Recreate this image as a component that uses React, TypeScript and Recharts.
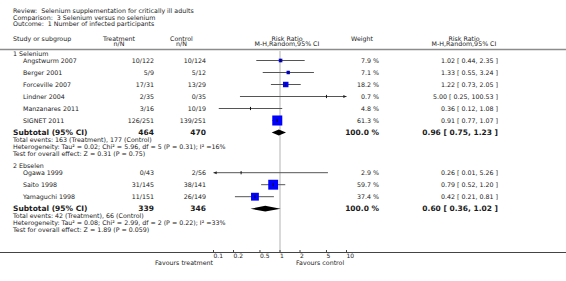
import React from 'react';
import { ComposedChart, XAxis, YAxis, Scatter, ErrorBar, Area } from 'recharts';

if (typeof document !== 'undefined') {
  document.body.style.margin = '0';
}

// ---------------- data ----------------
const reviewTitle = 'Review:  Selenium supplementation for critically ill adults';
const comparisonTitle = 'Comparison:  3 Selenium versus no selenium';
const outcomeTitle = 'Outcome:  1 Number of infected participants';

const groupLabels = ['1 Selenium', '2 Ebselen'];

const g1Studies = ['Angstwurm 2007', 'Berger 2001', 'Forceville 2007', 'Lindner 2004', 'Manzanares 2011', 'SIGNET 2011'];
const g1Treatment = ['10/122', '5/9', '17/31', '2/35', '3/16', '126/251'];
const g1Control = ['10/124', '5/12', '13/29', '0/35', '10/19', '139/251'];
const g1Weight = [7.9, 7.1, 18.2, 0.7, 4.8, 61.3];
const g1RR = [1.02, 1.33, 1.22, 5.0, 0.36, 0.91];
const g1Lo = [0.44, 0.55, 0.73, 0.25, 0.12, 0.77];
const g1Hi = [2.35, 3.24, 2.05, 100.53, 1.08, 1.07];

const g2Studies = ['Ogawa 1999', 'Saito 1998', 'Yamaguchi 1998'];
const g2Treatment = ['0/43', '31/145', '11/151'];
const g2Control = ['2/56', '38/141', '26/149'];
const g2Weight = [2.9, 59.7, 37.4];
const g2RR = [0.26, 0.79, 0.42];
const g2Lo = [0.01, 0.52, 0.21];
const g2Hi = [5.26, 1.2, 0.81];

const pooledRR = [0.96, 0.6];
const pooledLo = [0.75, 0.36];
const pooledHi = [1.23, 1.02];
const totalTreatment = [464, 339];
const totalControl = [470, 346];
const totalWeight = [100.0, 100.0];

const eventsNotes = [
  'Total events: 163 (Treatment), 177 (Control)',
  'Total events: 42 (Treatment), 66 (Control)',
];
const heterogeneityNotes = [
  'Heterogeneity: Tau\u00B2 = 0.02; Chi\u00B2 = 5.96, df = 5 (P = 0.31); I\u00B2 =16%',
  'Heterogeneity: Tau\u00B2 = 0.08; Chi\u00B2 = 2.99, df = 2 (P = 0.22); I\u00B2 =33%',
];
const effectNotes = [
  'Test for overall effect: Z = 0.31 (P = 0.75)',
  'Test for overall effect: Z = 1.89 (P = 0.059)',
];

const axisTicks = [0.1, 0.2, 0.5, 1, 2, 5, 10];
const axisDomain: [number, number] = [0.1, 10];
const noEffectValue = 1;
const favoursLeft = 'Favours treatment';
const favoursRight = 'Favours control';

// ---------------- layout / style ----------------
const W = 566;
const H = 281;
const FONT = "'DejaVu Sans', Verdana, sans-serif";
const TXT = '#1a1a1a';
const FS = 6.3;
const FS_BOLD = 7.5;
const Y_DOMAIN: [number, number] = [-5, 16];
const GROUP_START = [0, 9.35];
const GROUP_HEADER_OFFSET = -0.6;
const NOTE_OFFSETS = [0.58, 1.15, 1.72];
const DIAMOND_HALF = 0.24;
const REF_TOP = -0.8;
const X_AXIS_H = 28.5;
const MARGIN = { top: 0.5, right: 219.5, bottom: 0, left: 213.5 };
const COL_GROUP = 13;
const COL_STUDY = 23;
const COL_T = 154;
const COL_C = 206;
const COL_W = 379;
const COL_RR = 498;

const fmtCI = (rr: number, lo: number, hi: number) =>
  `${rr.toFixed(2)} [ ${lo.toFixed(2)}, ${hi.toFixed(2)} ]`;

const groups = [
  {
    label: groupLabels[0],
    studies: g1Studies.map((name, i) => ({
      name, t: g1Treatment[i], c: g1Control[i], w: g1Weight[i], rr: g1RR[i], lo: g1Lo[i], hi: g1Hi[i],
    })),
  },
  {
    label: groupLabels[1],
    studies: g2Studies.map((name, i) => ({
      name, t: g2Treatment[i], c: g2Control[i], w: g2Weight[i], rr: g2RR[i], lo: g2Lo[i], hi: g2Hi[i],
    })),
  },
];

const studyPoints: any[] = [];
const arrowPoints: any[] = [];
const tableRows: any[] = [];
const diamonds: any[][] = [];

groups.forEach((g, gi) => {
  const y0 = GROUP_START[gi];
  tableRows.push({ x: 1, y: y0 + GROUP_HEADER_OFFSET, kind: 'group', label: g.label });
  g.studies.forEach((s, i) => {
    const y = y0 + i;
    const lo = Math.max(s.lo, axisDomain[0]);
    const hi = Math.min(s.hi, axisDomain[1]);
    studyPoints.push({ x: s.rr, y, weight: s.w, err: [s.rr - lo, hi - s.rr] });
    if (s.lo < axisDomain[0]) arrowPoints.push({ x: axisDomain[0], y, dir: -1 });
    if (s.hi > axisDomain[1]) arrowPoints.push({ x: axisDomain[1], y, dir: 1 });
    tableRows.push({
      x: 1, y, kind: 'study', label: s.name, t: s.t, c: s.c,
      w: `${s.w.toFixed(1)} %`, ci: fmtCI(s.rr, s.lo, s.hi),
    });
  });
  const ys = y0 + g.studies.length;
  diamonds.push([
    { x: pooledLo[gi], band: [ys, ys] },
    { x: pooledRR[gi], band: [ys - DIAMOND_HALF, ys + DIAMOND_HALF] },
    { x: pooledHi[gi], band: [ys, ys] },
  ]);
  tableRows.push({
    x: 1, y: ys, kind: 'subtotal', label: 'Subtotal (95% CI)',
    t: String(totalTreatment[gi]), c: String(totalControl[gi]),
    w: `${totalWeight[gi].toFixed(1)} %`, ci: fmtCI(pooledRR[gi], pooledLo[gi], pooledHi[gi]),
  });
  [eventsNotes[gi], heterogeneityNotes[gi], effectNotes[gi]].forEach((txt, k) => {
    tableRows.push({ x: 1, y: ys + NOTE_OFFSETS[k], kind: 'note', label: txt });
  });
});

// vertical "no effect" line at RR = 1 (a y-direction error bar in an underlay chart)
const refMid = (REF_TOP + Y_DOMAIN[1]) / 2;
const refLinePoint = [{ x: noEffectValue, y: refMid, err: [refMid - REF_TOP, Y_DOMAIN[1] - refMid] }];

// ---------------- shapes ----------------
const EmptyShape = () => <g />;

const SquareShape = (props: any) => {
  const { cx, cy, payload } = props;
  const s = 1.28 * Math.sqrt(payload.weight);
  if (s < 3) return <g />;
  return <rect x={cx - s / 2} y={cy - s / 2} width={s} height={s} fill="#0000ff" />;
};

const TickShape = (props: any) => {
  const { cx, cy } = props;
  return <line x1={cx} x2={cx} y1={cy - 1.6} y2={cy + 1.6} stroke="#111" strokeWidth={1} />;
};

const ArrowShape = (props: any) => {
  const { cx, cy, payload } = props;
  const d = payload.dir;
  const pts = `${cx},${cy} ${cx - d * 3.2},${cy - 1.5} ${cx - d * 3.2},${cy + 1.5}`;
  return <polygon points={pts} fill="#222" />;
};

const TableRow = (props: any) => {
  const { cy, payload: r } = props;
  const t = (x: number, s: string, anchor: 'start' | 'end' | 'middle', bold = false) => (
    <text
      x={x}
      y={cy}
      textAnchor={anchor}
      dominantBaseline="central"
      fontFamily={FONT}
      fontSize={bold ? FS_BOLD : FS}
      fontWeight={bold ? 'bold' : 'normal'}
      fill={TXT}
    >
      {s}
    </text>
  );
  if (r.kind === 'group' || r.kind === 'note') return <g>{t(COL_GROUP, r.label, 'start')}</g>;
  if (r.kind === 'study')
    return (
      <g>
        {t(COL_STUDY, r.label, 'start')}
        {t(COL_T, r.t, 'end')}
        {t(COL_C, r.c, 'end')}
        {t(COL_W, r.w, 'end')}
        {t(COL_RR, r.ci, 'end')}
      </g>
    );
  return (
    <g>
      {t(COL_GROUP, r.label, 'start', true)}
      {t(COL_T, r.t, 'end', true)}
      {t(COL_C, r.c, 'end', true)}
      {t(COL_W, r.w, 'end', true)}
      {t(COL_RR, r.ci, 'end', true)}
    </g>
  );
};

const AxisTick = (props: any) => {
  const { x, y, payload } = props;
  return (
    <g>
      <line x1={x} x2={x} y1={y - 2.5} y2={y} stroke="#444" strokeWidth={1} />
      <text x={x} y={y + 3} textAnchor="start" dominantBaseline="central" fontFamily={FONT} fontSize={6} fill={TXT}>
        {String(payload.value)}
      </text>
    </g>
  );
};

// ---------------- component ----------------
const hdr = (x: number, y: number, s: string, anchor: 'start' | 'middle' | 'end' = 'middle') => (
  <text x={x} y={y} textAnchor={anchor} dominantBaseline="central" fontFamily={FONT} fontSize={FS} fill={TXT}
    style={{ whiteSpace: 'pre' }}>
    {s}
  </text>
);

const layerStyle: React.CSSProperties = { position: 'absolute', left: 0, top: 0 };

export default function App() {
  const axisY = H - X_AXIS_H;
  return (
    <div style={{ position: 'relative', width: W, height: H, overflow: 'hidden', background: '#fff' }}>
      {/* underlay: the no-effect line, drawn behind every mark */}
      <div style={layerStyle}>
        <ComposedChart width={W} height={H} margin={MARGIN}>
          <XAxis
            dataKey="x"
            type="number"
            scale="log"
            domain={axisDomain}
            ticks={axisTicks}
            axisLine={false}
            tickLine={false}
            tick={false}
            height={X_AXIS_H}
          />
          <YAxis type="number" domain={Y_DOMAIN} reversed hide />
          <Scatter data={refLinePoint} dataKey="y" shape={<EmptyShape />} isAnimationActive={false}>
            <ErrorBar dataKey="err" direction="y" width={0} stroke="#d9d9d9" strokeWidth={2} isAnimationActive={false} />
          </Scatter>
        </ComposedChart>
      </div>
      {/* main forest plot */}
      <div style={layerStyle}>
        <ComposedChart width={W} height={H} margin={MARGIN}>
          <XAxis
            dataKey="x"
            type="number"
            scale="log"
            domain={axisDomain}
            ticks={axisTicks}
            interval={0}
            axisLine={false}
            tickLine={false}
            tickSize={0}
            tickMargin={0}
            height={X_AXIS_H}
            tick={<AxisTick />}
          />
          <YAxis type="number" domain={Y_DOMAIN} reversed hide />
          {diamonds.map((d, i) => (
            <Area
              key={i}
              data={d}
              dataKey="band"
              type="linear"
              stroke="none"
              fill="#000"
              fillOpacity={1}
              dot={false}
              activeDot={false}
              isAnimationActive={false}
            />
          ))}
          <Scatter data={studyPoints} dataKey="y" shape={<SquareShape />} isAnimationActive={false} />
          <Scatter data={studyPoints} dataKey="y" shape={<TickShape />} isAnimationActive={false}>
            <ErrorBar dataKey="err" direction="x" width={0} stroke="#555" strokeWidth={1} isAnimationActive={false} />
          </Scatter>
          <Scatter data={arrowPoints} dataKey="y" shape={<ArrowShape />} isAnimationActive={false} />
          <Scatter data={tableRows} dataKey="y" shape={<TableRow />} isAnimationActive={false} />
        </ComposedChart>
      </div>
      <svg width={W} height={H} style={{ ...layerStyle, pointerEvents: 'none' }}>
        {hdr(13, 10.5, reviewTitle, 'start')}
        {hdr(13, 17.2, comparisonTitle, 'start')}
        {hdr(13, 23.9, outcomeTitle, 'start')}
        {hdr(13, 38, 'Study or subgroup', 'start')}
        {hdr(119, 38, 'Treatment')}
        {hdr(119, 43.7, 'n/N')}
        {hdr(181.5, 38, 'Control')}
        {hdr(181.5, 43.7, 'n/N')}
        {hdr(287, 38, 'Risk Ratio')}
        {hdr(287, 43.7, 'M-H,Random,95% CI')}
        {hdr(362, 38, 'Weight')}
        {hdr(464, 38, 'Risk Ratio')}
        {hdr(464, 43.7, 'M-H,Random,95% CI')}
        <line x1={0} x2={W} y1={49.5} y2={49.5} stroke="#8c8c8c" strokeWidth={1.5} />
        <line x1={0} x2={W} y1={axisY} y2={axisY} stroke="#444" strokeWidth={1} />
        {hdr(213, 262.5, favoursLeft, 'end')}
        {hdr(296, 262.5, favoursRight, 'start')}
      </svg>
    </div>
  );
}
